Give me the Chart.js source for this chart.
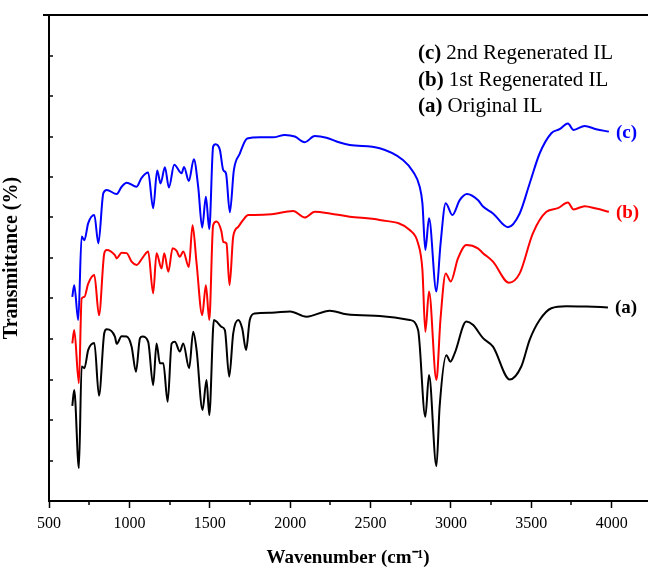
<!DOCTYPE html>
<html>
<head>
<meta charset="utf-8">
<script src="https://cdn.jsdelivr.net/npm/chart.js@4/dist/chart.umd.min.js"></script>
<style>
  html, body { margin: 0; padding: 0; background: #fff; overflow: hidden; }
  #wrap { width: 648px; height: 571px; }
</style>
</head>
<body>
<div id="wrap"><canvas id="ftirChart" width="648" height="571"></canvas></div>
<script>
// (a) Original IL
const aX = [645,657,686,703,720,744,782,811,844,859,910,921,952,983,1014,1041,1066,1082,1117,1148,1169,1190,1211,1238,1263,1283,1314,1335,1372,1397,1418,1455,1480,1497,1526,1542,1573,1594,1621,1646,1677,1702,1726,1749,1780,1884,2000,2102,2247,2350,2557,2744,2796,2841,2864,2910,2930,2972,2997,3024,3096,3137,3200,3262,3366,3438,3490,3552,3625,3718,3842,3977];
const aY = [23.5,27.4,8.1,33.2,32.8,37.3,39,26,41.5,42.4,40.6,38.8,40.7,40.6,38.1,31.9,40.2,40.6,39.3,28.6,38.9,34,34,24.5,38.9,39.3,36.9,38.9,32.8,41.8,37.3,22.5,29.9,21.2,44.7,44.3,43,42.2,30.7,41.4,44.7,42.6,37.3,44.7,46.3,46.5,46.8,45.5,47,46.1,45.7,44.7,42.2,20.8,31.1,8.6,23.3,36,34.4,36.5,44.3,43.5,40.2,38.1,30,33.2,39.8,44.7,47.6,48.1,48,47.8];

// (b) 1st Regenerated IL
const bX = [645,657,686,703,720,744,782,811,844,859,910,921,952,983,1014,1045,1086,1117,1148,1169,1200,1217,1242,1269,1293,1314,1335,1370,1393,1418,1453,1476,1497,1521,1542,1573,1584,1604,1623,1646,1677,1708,1739,1780,1884,2019,2091,2153,2247,2371,2557,2744,2796,2823,2841,2864,2910,2935,2968,2999,3044,3096,3168,3200,3262,3361,3428,3510,3594,3666,3728,3763,3832,3904,3983];
const bY = [38.9,42.2,29.1,50,50.4,53.7,55.8,45.9,61.2,62,60.7,59.9,61.3,61.2,59.1,58.3,60.3,61.6,51.3,61.2,57.4,61.2,56.6,62.4,61.8,60.3,61.6,57.8,68.1,58.7,45.9,53.3,44.7,68.1,69,66.5,64,63.6,53.3,65.3,67.7,69.4,70.6,70.6,70.8,71.6,70,71.4,71,70.2,69.4,66.9,63.6,57,41.8,51.7,29.9,44.7,56.2,54.2,59.9,63.2,62.4,61.2,59.1,53.9,56.2,66.1,71.4,72.3,73.7,72,72.8,72.2,71.4];

// (c) 2nd Regenerated IL
const cX = [645,657,682,703,720,744,782,807,838,859,921,952,983,1045,1076,1117,1148,1173,1194,1221,1246,1279,1325,1340,1370,1401,1428,1453,1476,1497,1521,1536,1563,1584,1601,1625,1650,1687,1733,1816,1894,1967,2029,2091,2153,2226,2309,2371,2557,2702,2765,2806,2823,2841,2864,2910,2935,2968,3009,3055,3100,3168,3200,3262,3355,3428,3490,3552,3625,3676,3728,3763,3832,3904,3983];
const cY = [50.4,53.3,44.7,65.3,64.4,68.6,70.6,63.6,76,76.8,75.8,77.6,78.6,77.6,79.8,81.1,72.3,81.6,78.4,82.4,77.4,83,80.9,82.5,79,84.4,77.6,67.5,75.1,67.1,87.5,88.1,86.7,81.7,80.9,71.3,81.7,85.8,89.5,89.8,89.8,90.4,90,88.6,90.1,89.7,88.5,87.9,87.1,84.2,81.3,77.6,73.5,62,69.8,51.7,63.2,73.5,70.6,74.3,75.8,74.3,72.7,71,67.6,71,78.4,85.8,90.8,91.8,93.2,91.6,92.6,91.8,91.2];

const xTicks = [500,1000,1500,2000,2500,3000,3500,4000];
const yTicks = [0,10,20,30,40,50,60,70,80,90,100,110,120];
const curveTags = ["(a)", "(b)", "(c)"];
const legendLines = [
  ["(c)", "2nd Regenerated IL"],
  ["(b)", "1st Regenerated IL"],
  ["(a)", "Original IL"],
];
const colors = ["#000000", "#ff0000", "#0000ff"];

const serif = "'Liberation Serif', 'Times New Roman', serif";

function toPoints(xs, ys) {
  return xs.map((x, i) => ({ x: x, y: ys[i] }));
}

// top border, inward y ticks, minor x ticks, curve tags, text legend
const extras = {
  id: "extras",
  afterDraw(chart) {
    const ctx = chart.ctx;
    const area = chart.chartArea;
    const xs = chart.scales.x;
    const ys = chart.scales.y;
    ctx.save();
    ctx.strokeStyle = "#000";
    ctx.lineWidth = 2;
    ctx.beginPath();
    ctx.moveTo(area.left - 6, area.top);
    ctx.lineTo(area.right + 2, area.top);
    ctx.stroke();

    ctx.lineWidth = 1.5;
    yTicks.forEach((v) => {
      const py = Math.round(ys.getPixelForValue(v));
      ctx.beginPath();
      ctx.moveTo(area.left, py);
      ctx.lineTo(area.left + 4, py);
      ctx.stroke();
    });
    for (let w = 750; w <= 4200; w += 500) {
      const px = Math.round(xs.getPixelForValue(w));
      ctx.beginPath();
      ctx.moveTo(px, area.bottom);
      ctx.lineTo(px, area.bottom + 4);
      ctx.stroke();
    }

    // curve tags at the right end
    ctx.font = "bold 19px " + serif;
    ctx.textBaseline = "middle";
    ctx.textAlign = "left";
    chart.data.datasets.forEach((ds, i) => {
      const last = ds.data[ds.data.length - 1];
      const px = xs.getPixelForValue(last.x) + 7;
      const py = ys.getPixelForValue(last.y) + 1;
      ctx.fillStyle = colors[i];
      ctx.fillText(curveTags[i], px, py);
    });

    // text legend
    ctx.textBaseline = "alphabetic";
    ctx.fillStyle = "#000";
    const lx = 418;
    legendLines.forEach((ln, i) => {
      const by = 59 + i * 26.5;
      ctx.font = "bold 21px " + serif;
      ctx.fillText(ln[0], lx, by);
      const tw = ctx.measureText(ln[0]).width + 5;
      ctx.font = "21px " + serif;
      ctx.fillText(ln[1], lx + tw, by);
    });
    ctx.restore();
  },
};

new Chart(document.getElementById("ftirChart"), {
  type: "line",
  data: {
    datasets: [
      { label: "(a) Original IL", data: toPoints(aX, aY), borderColor: colors[0] },
      { label: "(b) 1st Regenerated IL", data: toPoints(bX, bY), borderColor: colors[1] },
      { label: "(c) 2nd Regenerated IL", data: toPoints(cX, cY), borderColor: colors[2] },
    ],
  },
  options: {
    responsive: false,
    animation: false,
    layout: { padding: { left: 0, top: 15, right: 1, bottom: 0 } },
    elements: {
      point: { radius: 0 },
      line: { borderWidth: 2, cubicInterpolationMode: "monotone", fill: false },
    },
    plugins: { legend: { display: false }, tooltip: { enabled: false } },
    scales: {
      x: {
        type: "linear",
        min: 500,
        max: 4220,
        afterBuildTicks: (scale) => {
          scale.ticks = xTicks.map((v) => ({ value: v }));
        },
        afterFit: (scale) => {
          scale.height = 70;
        },
        ticks: {
          color: "#000",
          padding: 6,
          maxRotation: 0,
          font: { family: serif, size: 16 },
          callback: (value) => String(value),
        },
        grid: {
          drawOnChartArea: false,
          tickLength: 7,
          tickColor: "#000",
          tickWidth: 1.5,
        },
        border: { color: "#000", width: 2 },
        title: {
          display: true,
          text: "Wavenumber (cm⁻¹)",
          color: "#000",
          font: { family: serif, size: 19, weight: "bold" },
          padding: { top: 0, bottom: 2 },
        },
      },
      y: {
        min: 0,
        max: 120,
        afterFit: (scale) => {
          scale.width = 49;
        },
        ticks: { display: false },
        grid: { drawOnChartArea: false, drawTicks: false },
        border: { color: "#000", width: 2 },
        title: {
          display: true,
          text: "Transmittance (%)",
          color: "#000",
          font: { family: serif, size: 20, weight: "bold" },
          padding: { top: 0, bottom: 0 },
        },
      },
    },
  },
  plugins: [extras],
});
</script>
</body>
</html>
